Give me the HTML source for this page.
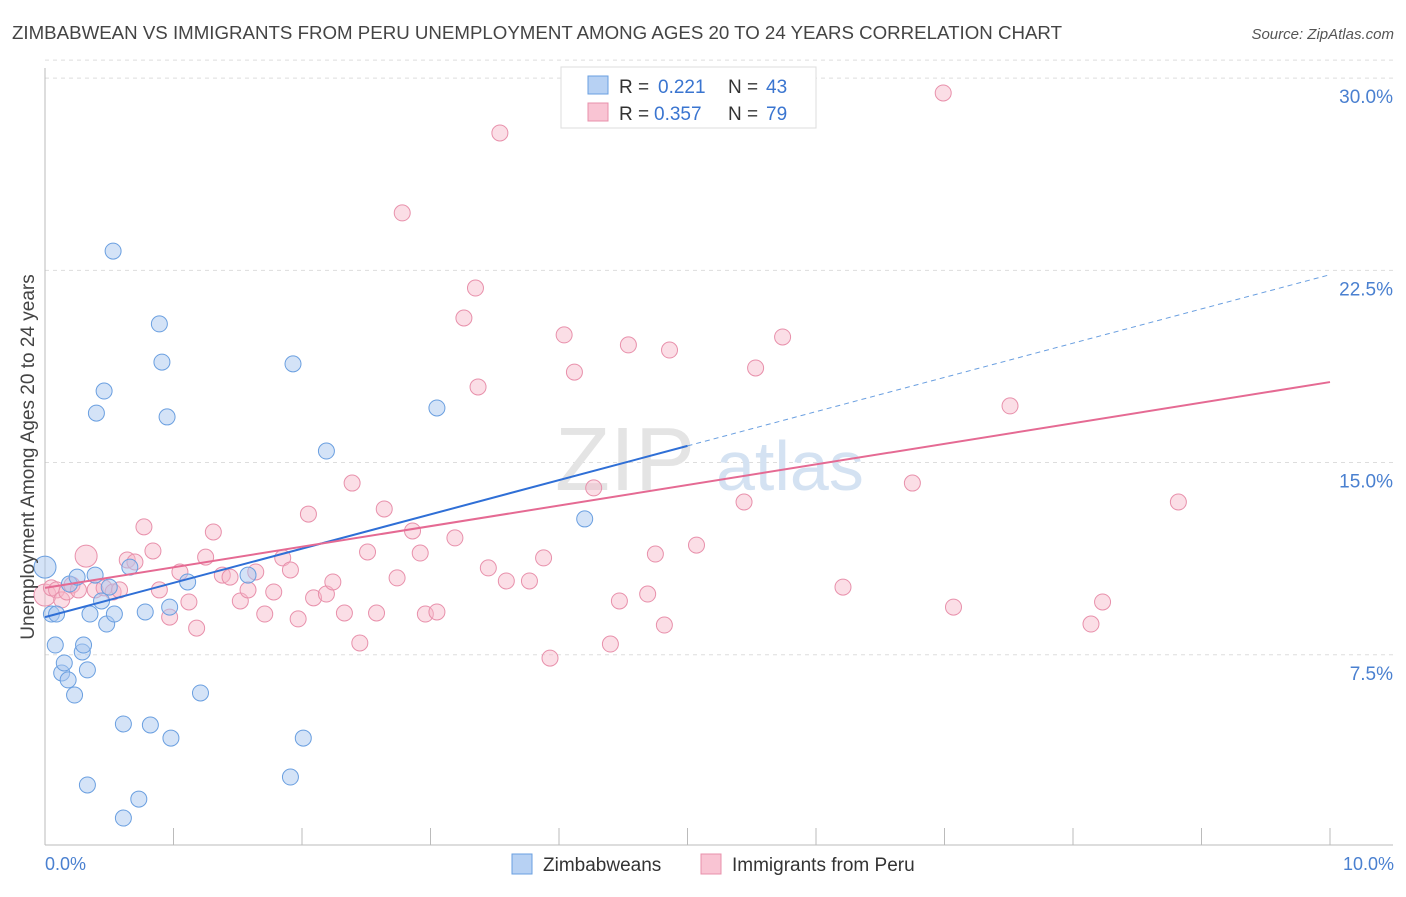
<!DOCTYPE html>
<html><head><meta charset="utf-8"><style>
body{margin:0;background:#fff;font-family:"Liberation Sans",sans-serif;}
svg text{font-family:"Liberation Sans",sans-serif;}
</style></head><body>
<svg width="1406" height="892" xmlns="http://www.w3.org/2000/svg">
<text x="12" y="39" font-size="18" fill="#444" textLength="1050" lengthAdjust="spacingAndGlyphs">ZIMBABWEAN VS IMMIGRANTS FROM PERU UNEMPLOYMENT AMONG AGES 20 TO 24 YEARS CORRELATION CHART</text>
<text x="1394" y="39" font-size="15" fill="#555" font-style="italic" text-anchor="end">Source: ZipAtlas.com</text>
<g id="grid"></g>
<g id="axes"></g>
<text x="555" y="490" font-size="90" fill="#e4e4e4" font-family="Liberation Serif">ZIP</text>
<text x="716" y="490" font-size="70" fill="#d4e2f2">atlas</text>
<g id="pink"></g>
<g id="blue"></g>
<g id="lines"></g>
<text transform="translate(34,457) rotate(-90)" font-size="19" fill="#444" text-anchor="middle">Unemployment Among Ages 20 to 24 years</text>
<text x="45" y="870" font-size="18" fill="#4a80d0">0.0%</text>
<text x="1394" y="870" font-size="18" fill="#4a80d0" text-anchor="end">10.0%</text>
<g>
<rect x="561" y="67" width="255" height="61" fill="#fff" stroke="#ddd"/>
<rect x="588" y="76" width="20" height="18" fill="#b7d1f3" stroke="#6a9fe0"/>
<rect x="588" y="103" width="20" height="18" fill="#f9c4d3" stroke="#e890ab"/>
<text x="619" y="93" font-size="19" fill="#333">R =</text>
<text x="658" y="93" font-size="19" fill="#3a75d0">0.221</text>
<text x="728" y="93" font-size="19" fill="#333">N =</text>
<text x="766" y="93" font-size="19" fill="#3a75d0">43</text>
<text x="619" y="120" font-size="19" fill="#333">R =</text>
<text x="654" y="120" font-size="19" fill="#3a75d0">0.357</text>
<text x="728" y="120" font-size="19" fill="#333">N =</text>
<text x="766" y="120" font-size="19" fill="#3a75d0">79</text>
</g>
<g>
<rect x="512" y="854" width="20" height="20" fill="#b7d1f3" stroke="#6a9fe0"/>
<text x="543" y="871" font-size="19" fill="#333">Zimbabweans</text>
<rect x="701" y="854" width="20" height="20" fill="#f9c4d3" stroke="#e890ab"/>
<text x="732" y="871" font-size="19" fill="#333">Immigrants from Peru</text>
</g>
</svg>
<script>
const yTicks=[7.5,15,22.5,30];
const yTickLabels=["7.5%","15.0%","22.5%","30.0%"];
const xTicks=[0,1,2,3,4,5,6,7,8,9,10];
const blueX=[0,0.05,0.09,0.08,0.13,0.15,0.18,0.23,0.19,0.25,0.29,0.30,0.33,0.35,0.39,0.40,0.44,0.46,0.48,0.50,0.53,0.54,0.61,0.66,0.73,0.78,0.82,0.89,0.91,0.95,0.97,0.98,1.11,1.21,1.58,1.91,1.93,2.01,2.19,3.05,4.20,0.33,0.61];
const blueY=[10.92,9.09,9.09,7.88,6.79,7.18,6.52,5.93,10.26,10.53,7.61,7.88,6.91,9.09,10.61,16.93,9.60,17.79,8.70,10.14,23.25,9.09,4.80,10.92,1.87,9.17,4.76,20.41,18.92,16.78,9.36,4.25,10.34,6.01,10.61,2.73,18.85,4.25,15.45,17.13,12.80,2.42,1.13];
const pinkX=[0,0.05,0.09,0.13,0.17,0.21,0.26,0.32,0.39,0.46,0.53,0.58,0.64,0.70,0.77,0.84,0.89,0.97,1.05,1.12,1.18,1.25,1.31,1.38,1.44,1.52,1.58,1.64,1.71,1.78,1.85,1.91,1.97,2.05,2.09,2.19,2.24,2.33,2.39,2.45,2.51,2.58,2.64,2.74,2.78,2.86,2.92,2.96,3.05,3.19,3.26,3.35,3.37,3.45,3.54,3.59,3.77,3.88,3.93,4.04,4.12,4.27,4.40,4.47,4.54,4.69,4.75,4.82,4.86,5.07,5.44,5.53,5.74,5.88,6.21,6.75,6.99,7.07,7.51,8.14,8.23,8.82];
const pinkY=[9.83,10.11,10.03,9.64,9.95,10.22,10.03,11.35,10.03,10.11,9.95,10.03,11.20,11.12,12.49,11.55,10.03,8.97,10.73,9.56,8.54,11.31,12.29,10.61,10.53,9.60,10.03,10.73,9.09,9.95,11.28,10.81,8.90,12.99,9.72,9.87,10.34,9.13,14.20,7.96,11.51,9.13,13.19,10.50,24.74,12.33,11.47,9.09,9.17,12.06,20.64,21.81,17.95,10.89,27.86,10.38,10.38,11.28,7.37,19.98,18.53,14.01,7.92,9.60,19.59,9.87,11.43,8.66,19.39,11.78,13.46,18.69,19.90,28.37,10.14,14.20,29.42,9.36,17.21,8.70,9.56,13.46];
const blueTrend=[8.97,1.336];
const pinkTrend=[10.11,0.803];
const NS="http://www.w3.org/2000/svg";
const X=v=>45+v*128.5, Y=v=>847-v*25.63;
function mk(t,a,p){const e=document.createElementNS(NS,t);for(const k in a)e.setAttribute(k,a[k]);p.appendChild(e);return e;}
const grid=document.getElementById('grid'),axes=document.getElementById('axes');
yTicks.forEach((t,i)=>{
 const l=mk('line',{x1:45,x2:1393,y1:Y(t),y2:Y(t),stroke:'#ddd','stroke-dasharray':'4,4'},grid);
 
 
 const tx=mk('text',{x:1393,y:Y(t)+25,'font-size':19,fill:'#4a80d0','text-anchor':'end'},grid);tx.textContent=yTickLabels[i];
 
 
});
const topLine=mk('line',{x1:45,x2:1393,y1:Y(30.7),y2:Y(30.7),stroke:'#ddd','stroke-dasharray':'4,4'},grid);


mk('line',{x1:45,x2:45,y1:68,y2:845,stroke:'#bbb'},axes);
mk('line',{x1:45,x2:1393,y1:845,y2:845,stroke:'#bbb'},axes);
xTicks.forEach(t=>{const l=mk('line',{x1:X(t),x2:X(t),y1:828,y2:845,stroke:'#bbb'},axes);
 
 });
const pg=document.getElementById('pink');
pinkX.forEach((x,i)=>{const c=mk('circle',{cx:X(x),cy:Y(pinkY[i]),r:i==0||i==7?11:8,fill:'rgba(247,182,200,0.45)',stroke:'#e890ab','stroke-width':1},pg);
 
 });
const bg=document.getElementById('blue');
blueX.forEach((x,i)=>{const c=mk('circle',{cx:X(x),cy:Y(blueY[i]),r:i==0?11:8,fill:'rgba(169,200,240,0.5)',stroke:'#6a9fe0','stroke-width':1},bg);
 
 });
const lg=document.getElementById('lines');
const f=(tr,x)=>tr[0]+tr[1]*x;
const l1=mk('line',{x1:X(0),y1:Y(f(blueTrend,0)),x2:X(5),y2:Y(f(blueTrend,5)),stroke:'#2f6fd6','stroke-width':2},lg);


const l2=mk('line',{x1:X(5),y1:Y(f(blueTrend,5)),x2:X(10),y2:Y(f(blueTrend,10)),stroke:'#6a9fe0','stroke-width':1,'stroke-dasharray':'5,4'},lg);


const l3=mk('line',{x1:X(0),y1:Y(f(pinkTrend,0)),x2:X(10),y2:Y(f(pinkTrend,10)),stroke:'#e56a93','stroke-width':2},lg);


</script>
</body></html>
